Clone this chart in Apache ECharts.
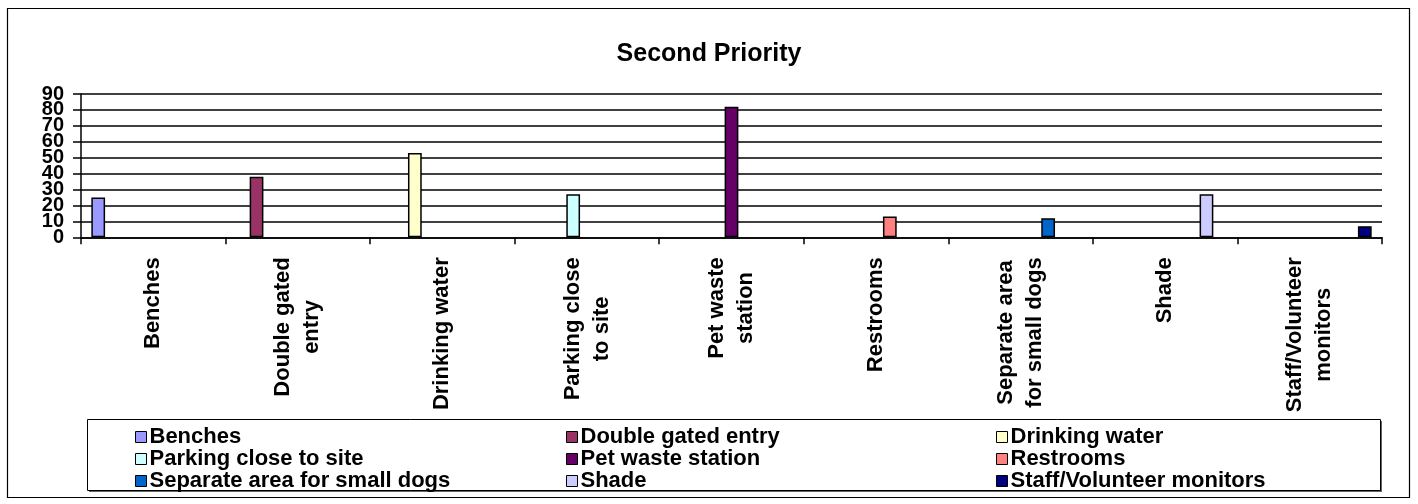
<!DOCTYPE html>
<html>
<head>
<meta charset="utf-8">
<script src="https://cdn.jsdelivr.net/npm/echarts@6/dist/echarts.min.js"></script>
<style>
  html, body { margin: 0; padding: 0; background: #fff; }
  #chart { width: 1418px; height: 504px; }
</style>
</head>
<body>
<div id="chart"></div>
<script>
const titleText = 'Second Priority';
const seriesNames = ['Benches', 'Double gated entry', 'Drinking water', 'Parking close to site', 'Pet waste station', 'Restrooms', 'Separate area for small dogs', 'Shade', 'Staff/Volunteer monitors'];
const axisLabels = ['Benches', 'Double gated\nentry', 'Drinking water', 'Parking close\nto site', 'Pet waste\nstation', 'Restrooms', 'Separate area\nfor small dogs', 'Shade', 'Staff/Volunteer\nmonitors'];
const values = [25, 38, 53, 27, 82, 13, 12, 27, 7];
const colors = ['#9999FF', '#993366', '#FFFFCC', '#CCFFFF', '#660066', '#FF8080', '#0066CC', '#CCCCFF', '#000080'];
const yTicks = [0, 10, 20, 30, 40, 50, 60, 70, 80, 90];
const legendColumns = [
  ['Benches', 'Parking close to site', 'Separate area for small dogs'],
  ['Double gated entry', 'Pet waste station', 'Shade'],
  ['Drinking water', 'Restrooms', 'Staff/Volunteer monitors']
];

const FONT = '"Liberation Sans", Arial, sans-serif';
const yMin = yTicks[0];
const yMax = yTicks[yTicks.length - 1];
const yStep = yTicks[1] - yTicks[0];

const series = seriesNames.map((name, i) => ({
  name: name,
  type: 'bar',
  yAxisIndex: 0,
  data: axisLabels.map((_, j) => (j === i ? values[i] : null)),
  barGap: '0%',
  barCategoryGap: '14.29%',
  itemStyle: { color: colors[i], borderColor: '#000', borderWidth: 1.5 },
  emphasis: { disabled: true }
}));

const legendLefts = [135, 566, 996];
const legends = legendColumns.map((col, k) => ({
  orient: 'vertical',
  left: legendLefts[k],
  top: 426,
  padding: 0,
  itemGap: 0,
  itemWidth: 11,
  itemHeight: 11,
  icon: 'rect',
  selectedMode: false,
  data: col,
  itemStyle: { borderColor: '#000', borderWidth: 1 },
  textStyle: { fontFamily: FONT, fontWeight: 'bold', fontSize: 22, lineHeight: 17, color: '#000', padding: [0, 0, 0, -2] }
}));

const yLabelStyle = { margin: 17, fontFamily: FONT, fontWeight: 'bold', fontSize: 20, color: '#000', hideOverlap: false };

const chart = echarts.init(document.getElementById('chart'), null, { renderer: 'canvas' });
chart.setOption({
  animation: false,
  backgroundColor: '#fff',
  title: {
    text: titleText,
    left: 'center',
    top: 37,
    textStyle: { fontFamily: FONT, fontWeight: 'bold', fontSize: 25, color: '#000' }
  },
  graphic: [
    { type: 'rect', z: -10, shape: { x: 7.5, y: 8.5, width: 1402, height: 489 }, style: { fill: '#fff', stroke: '#000', lineWidth: 1.2 } },
    { type: 'rect', z: -9, shape: { x: 89, y: 421, width: 1293, height: 71 }, style: { fill: '#666', stroke: null } },
    { type: 'rect', z: -8, shape: { x: 87.5, y: 419.5, width: 1293, height: 71 }, style: { fill: '#fff', stroke: '#000', lineWidth: 1 } }
  ],
  legend: legends,
  grid: { left: 81, right: 36, top: 94, bottom: 266.7, containLabel: false },
  xAxis: {
    type: 'category',
    data: axisLabels,
    axisLine: { show: true, lineStyle: { color: '#000', width: 1.5 } },
    axisTick: { show: true, length: 7, lineStyle: { color: '#000', width: 1.5 } },
    splitLine: { show: false },
    axisLabel: {
      interval: 0,
      rotate: 90,
      margin: 20,
      color: '#000',
      hideOverlap: false,
      formatter: v => v.split('\n').map(s => '{c|' + s + '}').join('\n'),
      rich: {
        c: { align: 'center', fontFamily: FONT, fontWeight: 'bold', fontSize: 22, lineHeight: 29, color: '#000' }
      }
    }
  },
  yAxis: [
    {
      type: 'value',
      position: 'left',
      min: yMin, max: yMax, interval: yStep,
      axisLine: { show: true, lineStyle: { color: '#000', width: 1.5 } },
      axisTick: { show: true, length: 8, lineStyle: { color: '#000', width: 1.5 } },
      splitLine: { show: true, lineStyle: { color: '#000', width: 1.5 } },
      axisLabel: Object.assign({}, yLabelStyle, { showMinLabel: false, showMaxLabel: false })
    },
    {
      type: 'value',
      position: 'left',
      offset: 0,
      min: yMin, max: yMax, interval: yStep,
      axisLine: { show: false },
      axisTick: { show: true, length: 8, lineStyle: { color: '#000', width: 1.5 } },
      splitLine: { show: false },
      axisLabel: Object.assign({}, yLabelStyle, {
        showMinLabel: true, showMaxLabel: true,
        formatter: v => (v === yMin || v === yMax) ? String(v) : ''
      })
    }
  ],
  series: series
});
</script>
</body>
</html>
